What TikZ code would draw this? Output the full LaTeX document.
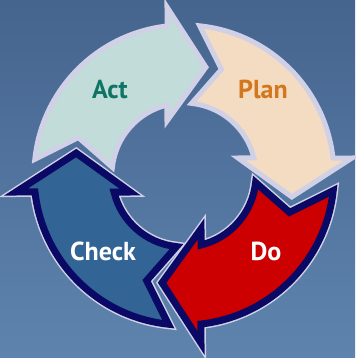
\documentclass[tikz,border=0pt]{standalone}
\usepackage{fontspec}
\setmainfont{PT Sans}
\definecolor{bgtop}{HTML}{45648E}
\definecolor{bgbot}{HTML}{5E84AE}
\definecolor{rim}{HTML}{D0D0E6}
\definecolor{navy}{HTML}{0A0A66}
\definecolor{actfill}{HTML}{C2DCD9}
\definecolor{planfill}{HTML}{F4DCC2}
\definecolor{dofill}{HTML}{CC0000}
\definecolor{checkfill}{HTML}{336496}
\definecolor{acttext}{HTML}{0E7565}
\definecolor{plantext}{HTML}{D4761C}

\begin{document}
\begin{tikzpicture}[x=0.05cm, y=0.05cm,
    lightrim/.style={draw=rim, line width=0.25cm},
    darkrim/.style={draw=navy, line width=0.35cm,
      preaction={draw=rim, line width=0.5cm}},
    word/.style={font=\fontsize{37}{40}\selectfont\bfseries, anchor=base}]

    \shade [top color=bgtop, bottom color=bgbot] (-184,-183) rectangle (171,175);
    \useasboundingbox (-184,-183) rectangle (171,175);

    \coordinate (O) at (0, 0);

    \begin{scope}[rotate=-270]
      \draw [darkrim, fill=checkfill] (174:150) arc [start angle=174, end angle=96.5, radius=150]
        -- (-17,168) -- (78.5:110) -- (-17,54) -- (103.7:72)
        arc [start angle=103.7, end angle=174, radius=72] -- (160.5:112) -- cycle;
    \end{scope}
    \begin{scope}[rotate=-180]
      \draw [darkrim, fill=dofill] (174:150) arc [start angle=174, end angle=96.5, radius=150]
        -- (-17,168) -- (78.5:110) -- (-17,54) -- (103.7:72)
        arc [start angle=103.7, end angle=174, radius=72] -- (160.5:112) -- cycle;
    \end{scope}
    \begin{scope}[rotate=0]
      \draw [lightrim, fill=actfill] (174:150) arc [start angle=174, end angle=96.5, radius=150]
        -- (-17,168) -- (78.5:110) -- (-17,54) -- (103.7:72)
        arc [start angle=103.7, end angle=174, radius=72] -- (160.5:112) -- cycle;
    \end{scope}
    \begin{scope}[rotate=-90]
      \draw [lightrim, fill=planfill] (174:150) arc [start angle=174, end angle=96.5, radius=150]
        -- (-17,168) -- (78.5:110) -- (-17,54) -- (103.7:72)
        arc [start angle=103.7, end angle=174, radius=72] -- (160.5:112) -- cycle;
    \end{scope}

    \node [word, text=acttext] (act) at (-74, 76) {Act};
    \node [word, text=plantext] (plan) at (79, 76) {Plan};
    \node [word, text=white] (check) at (-81, -85) {Check};
    \node [word, text=white] (do) at (82, -85) {Do};
  \end{tikzpicture}
\end{document}
